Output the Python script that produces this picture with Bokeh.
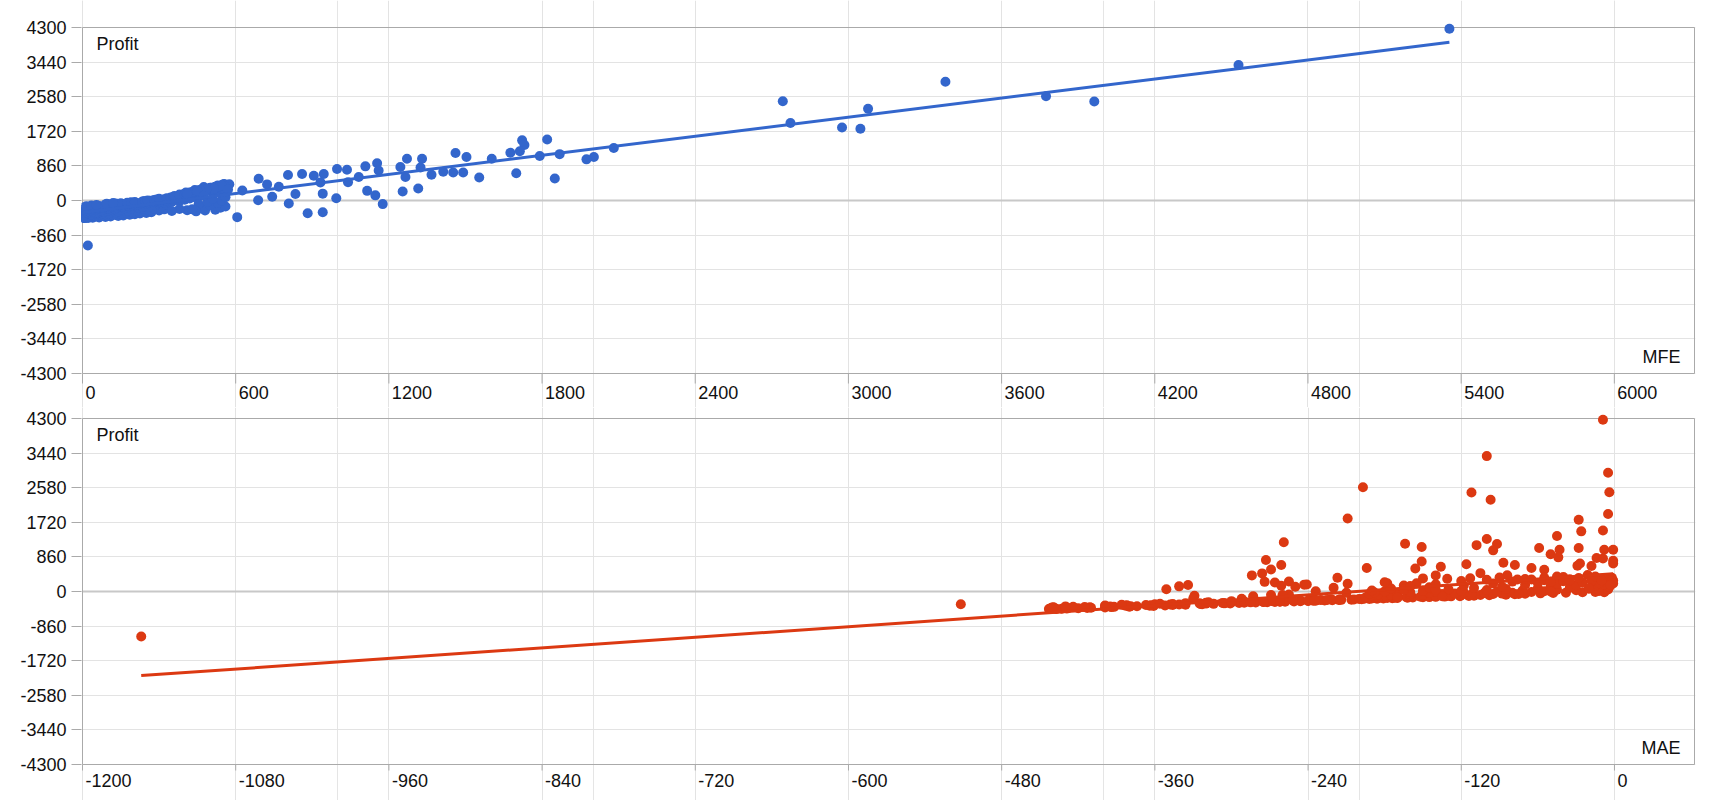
from bokeh.plotting import figure
from bokeh.layouts import column
from bokeh.models import Range1d, FixedTicker, Label, Grid
from bokeh.core.properties import value
from bokeh.embed import file_html
from bokeh.resources import INLINE

# ---------------- data (one entry per trade: profit, MFE, MAE) ----------------
winners_profit = [4270, 3365, 2950, 2590, 2469, 2460, 2279, 1925, 1814, 1785,
                  1516, 1495, 1380, 1305, 1226, 1189, 1180, 1152, 1106, 1081,
                  1081, 1036, 1036, 1036, 1023, 924, 849, 832, 820, 782,
                  766, 746, 716, 696, 696, 676, 658, 658, 638, 634,
                  613, 584, 584, 571, 547, 539]
winners_mfe = [5354, 4528, 3380, 3774, 2743, 3963, 3077, 2773, 2975, 3047,
               1820, 1722, 1731, 2081, 1713, 1676, 1461, 1869, 1791, 2003,
               1504, 1271, 1330, 1603, 1974, 1154, 1108, 1245, 1324, 997,
               1036, 1160, 1413, 1452, 1491, 1699, 860, 945, 1367, 805,
               906, 1082, 1265, 1554, 1850, 690]
winners_mae = [-9, -100, -5, -197, -4, -112, -97, -5, -209, -28,
               -9, -26, -45, -100, -259, -164, -92, -108, -151, -28,
               -59, -8, -1, -43, -95, -50, -44, -14, -9, -273,
               -1, -151, -87, -27, -1, -116, -261, -78, -29, -18,
               -136, -194, -65, -156, -269, -55]

faded_profit = [-414, 250, 4, 400, 95, 340, -75, 160, -315, -290,
                170, 450, 58, 456, 240, 128, -90, 224, 300]
faded_mfe = [606, 626, 688, 723, 743, 769, 808, 834, 882, 941,
             941, 932, 994, 1040, 1115, 1147, 1176, 1254, 1315]
faded_mae = [-441, -255, -234, -284, -220, -217, -255, -334, -512, -305,
             -243, -276, -351, -105, -274, -341, -269, -266, -76]

lateral_profit = [141, 174, 191, -108, -182, -116, 274, -17, 410, 370,
                  340, 330, 315, 207, 207, 149, 400, 405]
lateral_mfe = [390, 410, 420, 120, 60, 180, 480, 240, 555, 530,
               520, 540, 500, 430, 445, 395, 550, 575]
lateral_mae = [-261, -241, -209, -329, -292, -283, -1, -8, -21, -45,
               -55, -113, -131, -155, -178, -165, -140, -84]

stop_profit = [-438, -435, -432, -429, -426, -423, -420, -417, -414, -411,
               -408, -405, -402, -399, -396, -393, -390, -388, -385, -382,
               -379, -376, -373, -370, -367, -364, -361, -358, -355, -352,
               -349, -346, -343, -340, -337, -334, -331, -328, -325, -322,
               -319, -316, -313, -310, -307, -304, -301, -298, -295, -292,
               -289, -286, -283, -280]
stop_mfe = [8, 22, 3, 15, 40, 5, 65, 12, 30, 90,
            2, 48, 18, 110, 7, 35, 75, 0, 140, 25,
            55, 10, 95, 160, 4, 42, 120, 16, 68, 185,
            6, 33, 88, 205, 13, 52, 150, 1, 78, 225,
            20, 105, 45, 250, 9, 170, 60, 28, 130, 270,
            14, 85, 195, 38]
stop_mae = [-443, -437, -441, -433, -438, -429, -442, -420, -428, -441,
            -413, -430, -410, -439, -399, -411, -440, -394, -415, -392,
            -424, -380, -395, -430, -374, -379, -399, -361, -383, -364,
            -399, -352, -363, -382, -346, -367, -336, -386, -341, -348,
            -323, -360, -324, -346, -314, -356, -320, -301, -325, -306,
            -336, -294, -307, -320]

loss_profit = [-277, -274, -271, -268, -265, -262, -259, -256, -253, -250,
               -247, -244, -241, -238, -235, -232, -229, -226, -223, -220,
               -217, -214, -211, -208, -205, -202, -199, -196, -193, -190,
               -187, -184, -181, -178, -175, -172, -169, -166, -163, -160,
               -157, -154, -151, -148, -145, -142, -139, -136, -133, -130,
               -127, -124, -121, -118, -115, -112, -109, -106, -103, -100]
loss_mfe = [5, 60, 140, 20, 230, 95, 8, 175, 35, 300,
            70, 12, 210, 115, 45, 260, 3, 150, 80, 320,
            25, 190, 55, 125, 240, 10, 280, 100, 40, 165,
            220, 18, 75, 305, 135, 50, 255, 6, 180, 110,
            30, 235, 90, 160, 270, 15, 200, 65, 310, 140,
            245, 35, 175, 100, 285, 210, 55, 150, 330, 120]
loss_mae = [-290, -281, -300, -272, -318, -266, -275, -262, -258, -290,
            -251, -262, -246, -240, -268, -236, -234, -246, -227, -252,
            -221, -230, -216, -214, -238, -206, -204, -215, -198, -222,
            -192, -200, -186, -196, -181, -190, -174, -185, -170, -178,
            -162, -172, -158, -195, -150, -163, -145, -188, -140, -152,
            -133, -170, -128, -140, -121, -160, -114, -130, -110, -180]

scratch_profit = [-97, -94, -91, -88, -85, -82, -79, -76, -73, -70,
                  -67, -64, -61, -58, -55, -52, -49, -46, -43, -40,
                  -37, -34, -31, -28, -25, -22, -19, -16, -13, -10,
                  -7, -4, -1, 3, 7, 11, 15, 19, 23, 27,
                  31, 36, 41, 46, 51, 57, 63, 69, 75, 82,
                  89, 96, 103, 110, 118, 126, 134, 142, 150]
scratch_mfe = [90, 140, 110, 200, 160, 95, 250, 130, 180, 290,
               150, 210, 120, 260, 175, 230, 320, 190, 240, 280,
               205, 300, 250, 350, 235, 270, 310, 245, 290, 380,
               265, 330, 300, 255, 360, 310, 280, 400, 340, 290,
               320, 370, 300, 350, 420, 330, 360, 390, 345, 440,
               355, 370, 400, 360, 380, 460, 395, 410, 380]
scratch_mae = [-190, -120, -98, -175, -105, -150, -85, -185, -112, -78,
               -160, -95, -135, -70, -192, -88, -125, -58, -170, -102,
               -48, -145, -80, -38, -188, -118, -25, -160, -65, -15,
               -140, -92, -8, -180, -55, -120, -12, -150, -72, -190,
               -30, -100, -165, -45, -5, -130, -85, -20, -175, -60,
               -110, -35, -145, -4, -88, -50, -160, -15, -118]

smallwin_profit = [158, 166, 174, 182, 190, 198, 206, 214, 222, 230,
                   238, 246, 254, 262, 270, 278, 286, 294, 302, 310,
                   318, 326, 334, 342, 350, 362, 374, 300, 290, 280,
                   272, 264, 240, 200, 160,
                   -250, -230, -200, -180, -150, -120, -90, -60, -30, 0,
                   40, 80, 120, -270, -240, -210, -260, -220]
smallwin_mfe = [470, 400, 540, 415, 510, 420, 560, 445, 435, 525,
                480, 455, 565, 440, 500, 490, 545, 470, 520, 530,
                505, 550, 475, 520, 535, 555, 545, 495, 515, 485,
                570, 460, 450, 405, 410,
                480, 520, 470, 540, 560, 500, 455, 530, 490, 545,
                510, 560, 475, 445, 410, 380, 350, 430]
smallwin_mae = [-30, -70, -8, -140, -45, -95, -12, -60, -25, -180,
                -3, -80, -40, -120, -18, -55, -6, -100, -35, -70,
                -10, -150, -28, -2, -90, -40, -15, -65, -5, -35,
                -10, -2, -50, -1, -3,
                -262, -240, -215, -330, -170, -135, -260, -75, -210, -50,
                -140, -20, -250, -285, -300, -225, -275, -235]

outlier_profit = [-1120]
outlier_mfe = [21]
outlier_mae = [-1154]

# trend lines (end points)
trend_mfe_x = [0, 5354]
trend_mfe_y = [-299, 3931]
trend_mae_x = [-1154, -1]
trend_mae_y = [-2090, 440]

# axes
y_ticks = [-4300, -3440, -2580, -1720, -860, 0, 860, 1720, 2580, 3440, 4300]
mfe_ticks = [0, 600, 1200, 1800, 2400, 3000, 3600, 4200, 4800, 5400, 6000]
mae_ticks = [-1200, -1080, -960, -840, -720, -600, -480, -360, -240, -120, 0]
Y_RANGE = (-4300, 4300)
MFE_RANGE = (0, 6314)
MAE_RANGE = (-1200, 62.7)

profit = (winners_profit + faded_profit + lateral_profit + stop_profit + loss_profit
          + scratch_profit + smallwin_profit + outlier_profit)
mfe = (winners_mfe + faded_mfe + lateral_mfe + stop_mfe + loss_mfe
       + scratch_mfe + smallwin_mfe + outlier_mfe)
mae = (winners_mae + faded_mae + lateral_mae + stop_mae + loss_mae
       + scratch_mae + smallwin_mae + outlier_mae)

# ---------------- styling / layout ----------------
BLUE = "#3366CC"
RED = "#DC3912"
FONT = "Liberation Sans"
FS = "18px"
TEXT = "#111111"
GRID = "#e3e3e3"
ZERO = "#c8c8c8"
AXIS = "#aaaaaa"
W = 1712          # canvas width
BL = 82           # left edge of the plot box
PLOT_W = 1612     # plot box width in px
PLOT_H = 346      # plot box height in px
YU = (Y_RANGE[1] - Y_RANGE[0]) / PLOT_H   # profit units per pixel


def make_chart(xr, xticks, xs, color, tx, ty, xname, height, top_px, tick_len, label_gap):
    xu = (xr[1] - xr[0]) / PLOT_W          # x units per pixel
    bottom_px = height - top_px - PLOT_H
    # the frame covers the whole canvas height so the x tick labels can live inside it
    p = figure(width=W, height=height,
               x_range=Range1d(xr[0] - xu, xr[1] + xu),
               y_range=Range1d(Y_RANGE[0] - bottom_px * YU, Y_RANGE[1] + top_px * YU),
               output_backend="svg", toolbar_location=None,
               x_axis_location=None, y_axis_location="left",
               min_border_left=BL - 1, min_border_right=W - (BL - 1) - (PLOT_W + 2),
               min_border_top=0, min_border_bottom=0)
    p.background_fill_color = "white"
    p.border_fill_color = "white"
    p.outline_line_color = None

    # y axis (ticks + labels), axis line is drawn by the plot box
    p.yaxis.ticker = FixedTicker(ticks=y_ticks)
    p.yaxis.major_label_overrides = {t: str(t) for t in y_ticks}
    p.yaxis.axis_line_color = None
    p.yaxis.major_tick_line_color = AXIS
    p.yaxis.major_tick_in = 0
    p.yaxis.major_tick_out = 10
    p.yaxis.minor_tick_line_color = None
    p.yaxis.major_label_standoff = 5
    p.yaxis.major_label_text_font = FONT
    p.yaxis.major_label_text_font_size = FS
    p.yaxis.major_label_text_color = TEXT

    # grid
    p.ygrid.ticker = FixedTicker(ticks=y_ticks)
    p.ygrid.grid_line_color = GRID
    p.add_layout(Grid(dimension=0, ticker=FixedTicker(ticks=xticks), bounds=Y_RANGE,
                      grid_line_color=GRID))
    p.segment(x0=[xr[0]], x1=[xr[1]], y0=[0], y1=[0], line_color=ZERO, line_width=2)

    # plot box
    p.quad(left=[xr[0]], right=[xr[1]], bottom=[Y_RANGE[0]], top=[Y_RANGE[1]],
           fill_color=None, line_color=AXIS, line_width=1)

    # x ticks and left-aligned tick labels
    n = len(xticks)
    p.segment(x0=xticks, x1=xticks, y0=[Y_RANGE[0]] * n,
              y1=[Y_RANGE[0] - tick_len * YU] * n, line_color=AXIS, line_width=1)
    p.text(x=xticks, y=[Y_RANGE[0] - label_gap * YU] * n, text=[str(t) for t in xticks],
           text_align="left", text_baseline="top", x_offset=3,
           text_font=value(FONT), text_font_size=value(FS), text_color=TEXT)

    # data
    p.scatter(xs, profit, size=10, fill_color=color, line_color=None)
    p.line(tx, ty, line_color=color, line_width=3)

    p.add_layout(Label(x=xr[0], y=Y_RANGE[1], x_offset=14, y_offset=-6, text="Profit",
                       text_baseline="top", text_align="left", text_font=FONT,
                       text_font_size=FS, text_color=TEXT))
    p.add_layout(Label(x=xr[1], y=Y_RANGE[0], x_offset=-14, y_offset=17, text=xname,
                       text_baseline="alphabetic", text_align="right", text_font=FONT,
                       text_font_size=FS, text_color=TEXT))
    return p


p1 = make_chart(MFE_RANGE, mfe_ticks, mfe, BLUE, trend_mfe_x, trend_mfe_y, "MFE",
                407, 27, 10, 12)
p2 = make_chart(MAE_RANGE, mae_ticks, mae, RED, trend_mae_x, trend_mae_y, "MAE",
                393, 11, 6, 9)

layout = column(p1, p2, spacing=0)
open("out.html", "w").write(file_html(layout, INLINE))
